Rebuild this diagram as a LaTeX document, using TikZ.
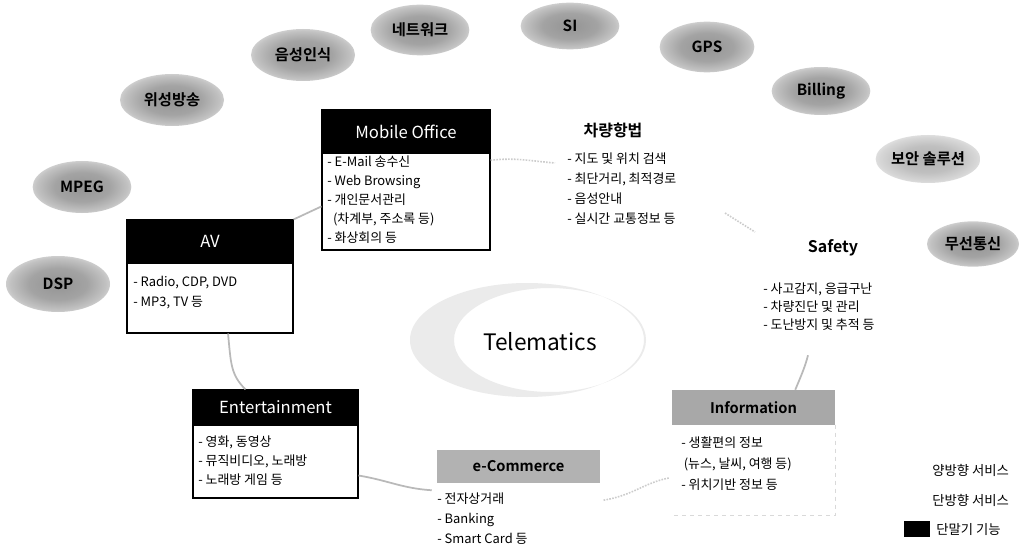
\documentclass[tikz,border=0pt]{standalone}
\usepackage{fontspec}
\setmainfont{Noto Sans CJK KR}[BoldFont={Noto Sans CJK KR Bold}]
\usetikzlibrary{shapes.geometric,calc}
\pgfdeclareradialshading{blobsh}{\pgfpoint{0bp}{0bp}}{color(0bp)=(black!42); color(14bp)=(black!36); color(23bp)=(black!24); color(30bp)=(black!9); color(35bp)=(white); color(50bp)=(white)}
\pgfdeclareradialshading{blobshl}{\pgfpoint{0bp}{0bp}}{color(0bp)=(black!30); color(14bp)=(black!25); color(23bp)=(black!16); color(30bp)=(black!6); color(35bp)=(white); color(50bp)=(white)}
\begin{document}
\begin{tikzpicture}[x=0.75pt,y=-0.75pt,
  blob/.style={ellipse, inner sep=0pt, shade, shading=blobsh,
    font=\bfseries\fontsize{11.5}{13}\selectfont},
  hdr/.style={draw, line width=0.8pt, fill=black, text=white, inner sep=0pt, font=\fontsize{12.5}{14}\selectfont},
  boxbody/.style={draw, line width=0.8pt, fill=white, inner sep=0pt},
  grayhdr/.style={fill=gray!60, inner sep=0pt, font=\bfseries\fontsize{11}{13}\selectfont},
  list/.style={align=left, inner sep=0pt, anchor=north west},
  conn/.style={draw=gray!55, line width=1.3pt},
  connf/.style={draw=gray!40, line width=1.2pt, densely dotted},
  legend/.style={anchor=west, inner sep=0pt, font=\fontsize{10}{12}\selectfont}
]
\useasboundingbox[fill=white] (0,0) rectangle (1024,549);

% technology blobs
\node[blob, minimum width=74pt, minimum height=38pt] (b1) at (420,30) {네트워크};
\node[blob, minimum width=78pt, minimum height=39pt] (b2) at (303,55) {음성인식};
\node[blob, minimum width=78pt, minimum height=39pt] (b3) at (172,100) {위성방송};
\node[blob, minimum width=74pt, minimum height=39pt] (b4) at (82,187) {MPEG};
\node[blob, minimum width=78pt, minimum height=42pt] (b5) at (58,284) {DSP};
\node[blob, minimum width=74pt, minimum height=35pt] (b6) at (570,26) {SI};
\node[blob, minimum width=71pt, minimum height=38pt] (b7) at (707,47) {GPS};
\node[blob, minimum width=74pt, minimum height=36pt] (b8) at (821,91) {Billing};
\node[blob, shading=blobshl, minimum width=74pt, minimum height=36pt] (b9) at (928,159) {보안 솔루션};
\node[blob, minimum width=69pt, minimum height=34pt] (b10) at (973,244) {무선통신};

% centre
\fill[gray!16, even odd rule] (527,340) ellipse [x radius=117, y radius=57] (550,340) ellipse [x radius=96, y radius=52];
\node[inner sep=0pt, font=\fontsize{17}{20}\selectfont] (tel) at (540,342) {Telematics};

% Mobile Office
\node[hdr, minimum width=126pt, minimum height=32.25pt] (moh) at (406,131.5) {Mobile Office};
\node[boxbody, minimum width=126pt, minimum height=72.75pt] (mob) at (406,201.5) {};
\node[list, font=\fontsize{9.7}{14.25}\selectfont] (mol) at (327,156)
  {- E-Mail 송수신\\- Web Browsing\\- 개인문서관리\\\hspace{0.45em}(차계부, 주소록 등)\\- 화상회의 등};

% AV
\node[hdr, minimum width=124.5pt, minimum height=32.25pt] (avh) at (210,241.5) {AV};
\node[boxbody, minimum width=124.5pt, minimum height=52.5pt] (avb) at (210,298) {};
\node[list, font=\fontsize{9.7}{15}\selectfont] (avl) at (133,276) {- Radio, CDP, DVD\\- MP3, TV 등};

% Entertainment
\node[hdr, minimum width=123.75pt, minimum height=26.25pt] (enth) at (275.5,407.5) {Entertainment};
\node[boxbody, minimum width=123.75pt, minimum height=54.75pt] (entb) at (275.5,461.5) {};
\node[list, font=\fontsize{9.7}{13.9}\selectfont] (entl) at (198,436)
  {- 영화, 동영상\\- 뮤직비디오, 노래방\\- 노래방 게임 등};

% e-Commerce
\node[grayhdr, minimum width=122.25pt, minimum height=24.75pt] (ecomh) at (518.5,466.5) {e-Commerce};
\node[list, font=\fontsize{9.7}{15}\selectfont] (ecoml) at (437,493)
  {- 전자상거래\\- Banking\\- Smart Card 등};

% Information
\node[grayhdr, fill=gray!68, minimum width=122.25pt, minimum height=26.25pt] (infoh) at (753.5,407.5) {Information};
\node[inner sep=0pt, minimum width=122.25pt, minimum height=67.5pt] (infob) at (753.5,470) {};
\draw[gray!30, dashed] (infob.north east) -- (infob.south east) -- (infob.south west);
\node[list, font=\fontsize{9.7}{15.75}\selectfont] (infol) at (681,436)
  {- 생활편의 정보\\\hspace{0.2em}(뉴스, 날씨, 여행 등)\\- 위치기반 정보 등};

% 차량항법
\node[inner sep=0pt, font=\bfseries\fontsize{12}{14}\selectfont] (navt) at (613,130) {차량항법};
\node[list, font=\fontsize{9.7}{15}\selectfont] (navl) at (567,153)
  {- 지도 및 위치 검색\\- 최단거리, 최적경로\\- 음성안내\\- 실시간 교통정보 등};

% Safety
\node[inner sep=0pt, font=\bfseries\fontsize{12}{14}\selectfont] (saft) at (833,248) {Safety};
\node[list, font=\fontsize{9.7}{13.5}\selectfont] (safl) at (763,283)
  {- 사고감지, 응급구난\\- 차량진단 및 관리\\- 도난방지 및 추적 등};

% connectors (ring)
\draw[conn] (avh.north east) -- ($(mob.north west)!0.55!(mob.south west)$);
\draw[connf] ($(mob.north east)!0.08!(mob.south east)$) .. controls +(25,-3) and +(-25,-2) .. ($(navl.north west)+(-12,10)$);
\draw[connf] ($(saft)+(-108,-35)$) -- ($(saft)+(-78,-16)$);
\draw[conn] ($(safl.south west)+(45,24)$) .. controls +(-3,12) and +(5,-12) .. ($(infoh.north east)+(-40,0)$);
\draw[connf] ($(infob.west)+(-3,8)$) .. controls +(-25,5) and +(30,-5) .. ($(ecomh.south east)+(3,17)$);
\draw[conn] ($(entb.east)+(0,14)$) .. controls +(30,5) and +(-30,-2) .. ($(ecomh.south west)+(-5,7)$);
\draw[conn] ($(avb.south)+(18,0)$) .. controls +(3,30) and +(-15,-15) .. ($(enth.north)+(-30,0)$);

% legend
\node[legend] (lg1) at (932,470) {양방향 서비스};
\node[legend] (lg2) at (932,500) {단방향 서비스};
\node[fill=black, minimum width=19.5pt, minimum height=12pt, inner sep=0pt] (lg3s) at (917,529) {};
\node[legend] (lg3) at (936,530) {단말기 기능};
\end{tikzpicture}
\end{document}
